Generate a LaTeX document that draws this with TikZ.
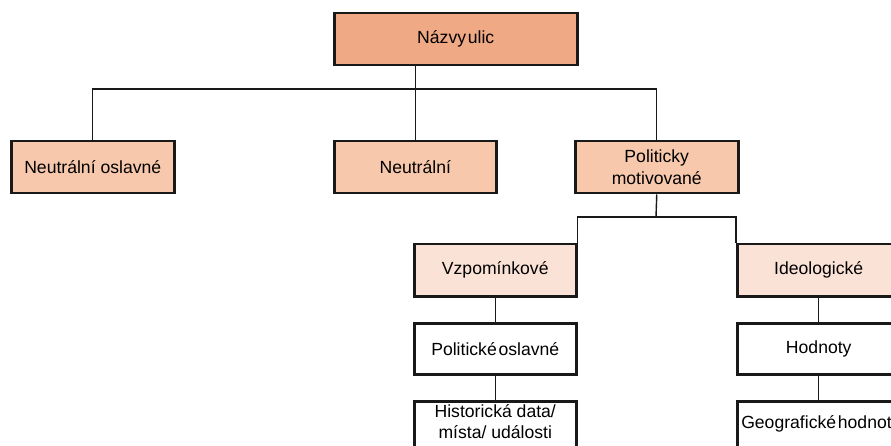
\documentclass[tikz,border=0pt]{standalone}
\usepackage{fontspec}
\setmainfont{Liberation Sans}
\definecolor{c1}{HTML}{F0A985}
\definecolor{c2}{HTML}{F7C8AB}
\definecolor{c3}{HTML}{FBE2D6}
\begin{document}
\begin{tikzpicture}[x=1pt,y=-1pt,
  box/.style={draw=black!90, line width=2.5pt, fill=white, rectangle, anchor=north west,
    minimum width=#1, minimum height=52pt, inner sep=2pt, align=center,
    font=\fontsize{17.6}{21.5}\selectfont},
  box/.default=163pt,
  conn/.style={draw=black!90, line width=1.4pt}]
\clip (0,0) rectangle (891,446);
\fill[white] (0,0) rectangle (891,446);
\node[box=243pt, fill=c1] (top) at (333,12) {Názvy\hspace{0.1em}ulic};
\node[box, fill=c2] (n1) at (10,140) {Neutrální oslavné};
\node[box=162pt, fill=c2] (n2) at (333,140) {Neutrální};
\node[box, fill=c2] (p) at (574,140) {Politicky\\motivované};
\node[box=162pt, fill=c3] (v) at (413,243) {Vzpomínkové};
\node[box, fill=c3] (i) at (736,243) {Ideologické};
\node[box=162pt, minimum height=51pt] (po) at (413,322) {Politické\hspace{0.1em}oslavné};
\node[box, minimum height=51pt] (h) at (736,322) {Hodnoty};
\node[box=162pt, text depth=11pt] (hd) at (413,400) {Historická data/\\místa/ události};
\node[box, align=left, text depth=11pt] (g) at (736,400) {\makebox[155pt][l]{Geografické\hspace{0.1em}hodnoty}};
\coordinate (j1) at (414,89);
\coordinate (j2) at (656,217);
\draw[conn] (top.south -| n2.north) -- (n2.north);
\draw[conn] (n1.north) |- (j1) -| (p.north);
\draw[conn] (p.south) -- (j2);
\draw[conn] (v.north east) |- (j2) -| (i.north west);
\draw[conn] (v.south) -- (po.north);
\draw[conn] (po.south) -- (hd.north);
\draw[conn] (i.south) -- (h.north);
\draw[conn] (h.south) -- (g.north);
\end{tikzpicture}
\end{document}
